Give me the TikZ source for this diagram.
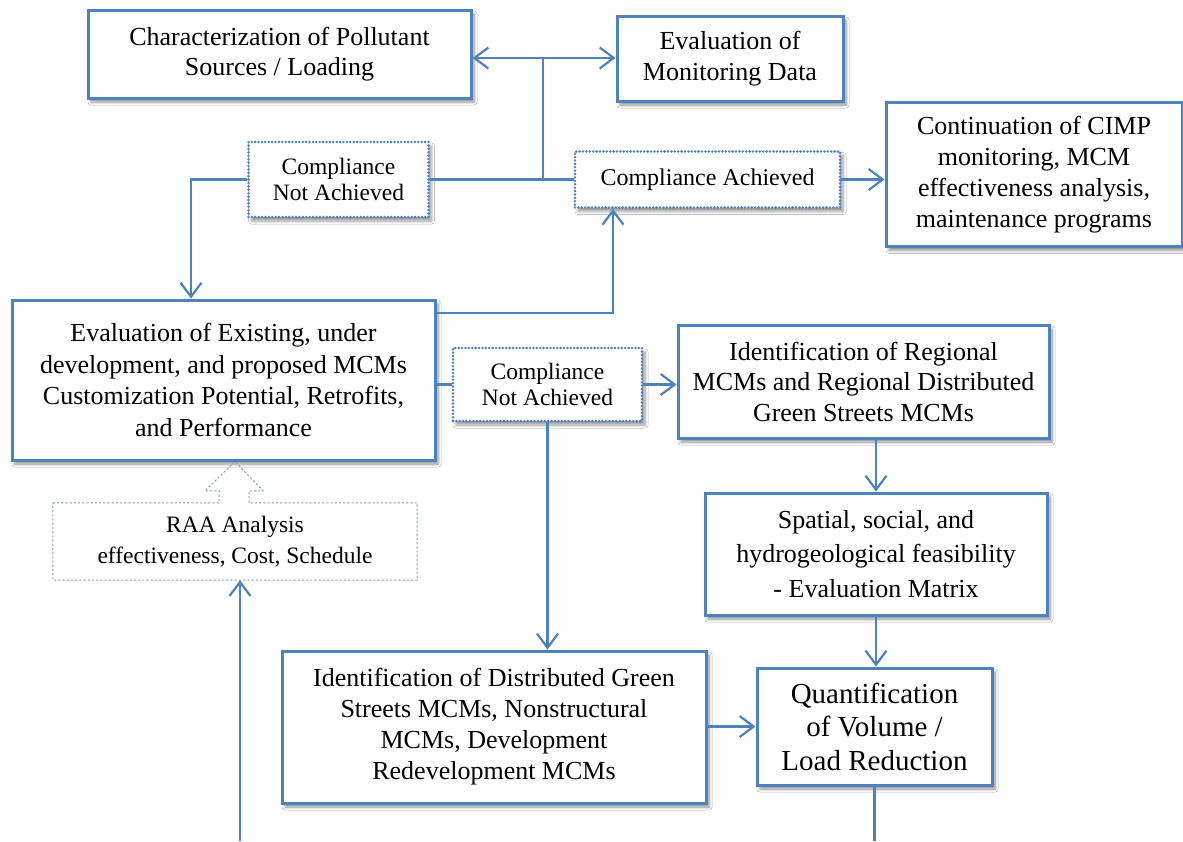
\documentclass[tikz,border=0pt]{standalone}
\usepackage{fontspec}
\setmainfont{Liberation Serif}
\usetikzlibrary{arrows.meta,shadows.blur,calc}
\definecolor{mblue}{RGB}{79,129,189}
\begin{document}
\begin{tikzpicture}[x=1pt,y=-1pt,
  fs/.style 2 args={font=\fontsize{#1}{#2}\selectfont},
  box/.style={draw=mblue, line width=3pt, fill=white, align=center, inner sep=0pt,
    blur shadow={shadow xshift=3pt,shadow yshift=-4pt,shadow opacity=45,shadow blur steps=6,shadow blur radius=3pt}},
  dotbox/.style={draw=mblue, line width=2.8pt, line cap=round, dash pattern=on 0pt off 3.4pt, fill=white,
    align=center, inner sep=0pt, blur shadow={shadow xshift=3pt,shadow yshift=-4pt,shadow opacity=40,shadow blur steps=6,shadow blur radius=3pt}},
  conn/.style={draw=mblue, line width=2.2pt},
  arr/.style={conn, -{Straight Barb[length=14pt,width=21pt]}}]
\fill[white] (0,0) rectangle (1183,841);
\useasboundingbox (0,0) rectangle (1183,841);

% boxes
\node[box, fs={26}{30.5}, minimum width=383pt, minimum height=88pt] (char) at (279.5,54)
  {Characterization of Pollutant\\Sources / Loading};
\node[box, fs={26}{30.5}, minimum width=226pt, minimum height=85pt] (evalmon) at (730,58.5)
  {Evaluation of\\Monitoring Data};
\node[box, fs={26}{30.8}, minimum width=296pt, minimum height=144pt] (cont) at (1034,174.5)
  {Continuation of CIMP\\monitoring, MCM\\effectiveness analysis,\\maintenance programs};
\node[dotbox, fs={23.5}{26.5}, minimum width=180pt, minimum height=75pt] (cna1) at (338.5,179.5)
  {Compliance\\Not Achieved};
\node[dotbox, fs={24}{28}, minimum width=265pt, minimum height=56pt] (ca) at (707.5,179.5)
  {Compliance Achieved};
\node[box, fs={26}{31.5}, minimum width=423pt, minimum height=160pt] (exist) at (223.5,380)
  {Evaluation of Existing, under\\development, and proposed MCMs\\Customization Potential, Retrofits,\\and Performance};
\node[dotbox, fs={23.5}{26.5}, minimum width=189pt, minimum height=73pt] (cna2) at (547.5,384.5)
  {Compliance\\Not Achieved};
\node[box, fs={26}{30.5}, minimum width=371pt, minimum height=113pt] (regional) at (863.5,381.5)
  {Identification of Regional\\MCMs and Regional Distributed\\Green Streets MCMs};
\node[box, fs={26}{34.5}, minimum width=342pt, minimum height=122pt] (spatial) at (876,554)
  {Spatial, social, and\\hydrogeological feasibility\\- Evaluation Matrix};
\node[fs={23.5}{31.5}, align=center, inner sep=0pt, minimum width=364pt, minimum height=77pt] (raa) at (235,541.5)
  {RAA Analysis\\effectiveness, Cost, Schedule};
\node[box, fs={26}{31}, minimum width=424pt, minimum height=152pt] (distr) at (494,727)
  {Identification of Distributed Green\\Streets MCMs, Nonstructural\\MCMs, Development\\Redevelopment MCMs};
\node[box, fs={29}{33.5}, minimum width=235pt, minimum height=117pt] (quant) at (874.5,726.5)
  {Quantification\\of Volume /\\Load Reduction};

% RAA box outline with hollow arrow
\draw[draw=mblue!75, line width=1pt, dash pattern=on 2.2pt off 2pt]
  (raa.north west) -- ($(raa.north)+(-16,0)$) -- ($(raa.north)+(-16,-12)$)
  -- ($(raa.north)+(-30,-12)$) -- (raa.north |- exist.south)
  -- ($(raa.north)+(28,-12)$) -- ($(raa.north)+(14,-12)$) -- ($(raa.north)+(14,0)$)
  -- (raa.north east) -- (raa.south east) -- (raa.south west) -- cycle;

% coordinates
\coordinate (J1) at (543,58);
\coordinate (J2) at (543,179.5);
\coordinate (L1) at (191,179.5);
\coordinate (R1) at (613,313);
\coordinate (B1) at (240,841);
\coordinate (B2) at (874.5,841);

% connectors
\draw[arr] (J1) -- (J1 -| char.east);
\draw[arr] (J1) -- (J1 -| evalmon.west);
\draw[conn] (J1) -- (J2);
\draw[conn] (cna1.east) -- (ca.west);
\draw[arr] (cna1.west) -- (L1) -- (L1 |- exist.north);
\draw[arr] (R1 -| exist.east) -- (R1) -- (R1 |- ca.south);
\draw[arr] (ca.east) -- (ca.east -| cont.west);
\draw[conn] (cna2.west -| exist.east) -- (cna2.west);
\draw[arr] (cna2.east) -- (cna2.east -| regional.west);
\draw[arr] (cna2.south) -- (cna2.south |- distr.north);
\draw[arr] (spatial.north |- regional.south) -- (spatial.north);
\draw[arr] (spatial.south) -- (spatial.south |- quant.north);
\draw[arr] (distr.east |- quant.west) -- (quant.west);
\draw[conn] (quant.south) -- (B2);
\draw[arr] (B1) -- (B1 |- raa.south);
\end{tikzpicture}
\end{document}
